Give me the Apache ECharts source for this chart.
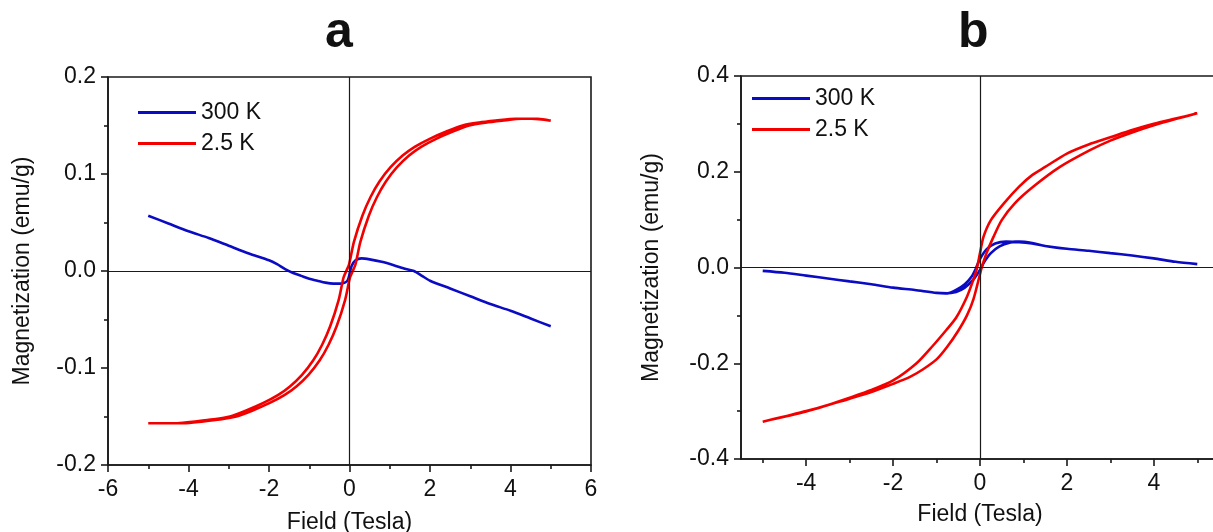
<!DOCTYPE html>
<html>
<head>
<meta charset="utf-8">
<title>M(H) loops</title>
<script src="https://cdn.jsdelivr.net/npm/echarts@6/dist/echarts.min.js"></script>
<style>
    html, body { margin: 0; padding: 0; background: #fff; }
    #chart { width: 1213px; height: 532px; }
</style>
</head>
<body>
<div id="chart"></div>
<script>
// ---- panel a : 300 K (single sweep) ----
const fieldA300 = [-5, -4.5, -4, -3.5, -3, -2.5, -2, -1.8, -1.6, -1.4, -1.2, -1.0, -0.8, -0.6, -0.4, -0.2, -0.05,
    0.05, 0.15, 0.3, 0.5, 0.8, 1.1, 1.4, 1.6, 1.8, 2.0, 2.5, 3, 3.5, 4, 4.5, 5]
const magA300 = [0.057, 0.049, 0.041, 0.034, 0.026, 0.018, 0.011, 0.007, 0.002, -0.002, -0.005, -0.008, -0.010, -0.012, -0.013, -0.013, -0.010,
    0.005, 0.011, 0.013, 0.012, 0.0095, 0.006, 0.002, 0.000, -0.005, -0.010, -0.018, -0.026, -0.034, -0.041, -0.049, -0.057]

// ---- panel a : 2.5 K loop, field going down then back up ----
const fieldA25Down = [5.0, 4.52, 4.12, 3.63, 3.22, 2.81, 2.42, 1.98, 1.62, 1.32, 1.02, 0.74, 0.52, 0.32, 0.11, -0.01, -0.08,
    -0.15, -0.27, -0.48, -0.68, -0.90, -1.18, -1.48, -1.78, -2.14, -2.58, -2.97, -3.38, -3.79, -4.28, -4.68, -5.0]
const magA25Down = [0.155, 0.157, 0.157, 0.155, 0.153, 0.150, 0.144, 0.136, 0.128, 0.119, 0.107, 0.092, 0.076, 0.057, 0.030, 0.007, 0.0,
    -0.007, -0.030, -0.057, -0.076, -0.092, -0.107, -0.119, -0.128, -0.136, -0.144, -0.150, -0.153, -0.155, -0.157, -0.157, -0.157]
const fieldA25Up = [-5.0, -4.52, -4.12, -3.63, -3.22, -2.81, -2.42, -1.98, -1.62, -1.32, -1.02, -0.74, -0.52, -0.32, -0.11, 0.01, 0.08,
    0.15, 0.27, 0.48, 0.68, 0.90, 1.18, 1.48, 1.78, 2.14, 2.58, 2.97, 3.38, 3.79, 4.28, 4.68, 5.0]
const magA25Up = [-0.157, -0.157, -0.157, -0.155, -0.153, -0.150, -0.144, -0.136, -0.128, -0.119, -0.107, -0.092, -0.076, -0.057, -0.030, -0.007, 0.0,
    0.007, 0.030, 0.057, 0.076, 0.092, 0.107, 0.119, 0.128, 0.136, 0.144, 0.150, 0.153, 0.155, 0.157, 0.157, 0.155]

// ---- panel b : 300 K small loop ----
const fieldB300Down = [5.0, 4.5, 4.0, 3.5, 3.0, 2.5, 2.0, 1.5, 1.2, 0.9, 0.6, 0.35, 0.15, 0.0, -0.1, -0.2, -0.35, -0.55,
    -0.75, -1.0, -1.5, -2.0, -2.5, -3.0, -3.5, -4.0, -4.5, -5.0]
const magB300Down = [0.007, 0.012, 0.019, 0.025, 0.030, 0.035, 0.039, 0.045, 0.050, 0.053, 0.054, 0.050, 0.038, 0.018, -0.003, -0.020, -0.035, -0.047,
    -0.054, -0.053, -0.047, -0.042, -0.035, -0.029, -0.023, -0.017, -0.011, -0.007]
const fieldB300Up = [-5.0, -4.5, -4.0, -3.5, -3.0, -2.5, -2.0, -1.5, -1.0, -0.8, -0.55, -0.35, -0.15, 0.0, 0.1, 0.25, 0.45,
    0.7, 0.9, 1.2, 1.5, 2.0, 2.5, 3.0, 3.5, 4.0, 4.5, 5.0]
const magB300Up = [-0.007, -0.011, -0.017, -0.023, -0.029, -0.035, -0.042, -0.047, -0.053, -0.054, -0.051, -0.042, -0.025, -0.005, 0.012, 0.030, 0.044,
    0.052, 0.054, 0.051, 0.045, 0.039, 0.035, 0.030, 0.025, 0.019, 0.012, 0.007]

// ---- panel b : 2.5 K loop ----
const fieldB25Down = [5.0, 4.5, 4.0, 3.5, 3.0, 2.5, 2.0, 1.5, 1.2, 0.9, 0.55, 0.25, 0.08, 0.0, -0.08, -0.15, -0.3, -0.55,
    -0.77, -1.1, -1.46, -2.0, -2.5, -3.0, -3.5, -4.0, -4.5, -5.0]
const magB25Down = [0.322, 0.311, 0.300, 0.287, 0.272, 0.257, 0.238, 0.210, 0.193, 0.169, 0.134, 0.099, 0.064, 0.030, -0.005, -0.025, -0.061, -0.105,
    -0.130, -0.165, -0.200, -0.236, -0.256, -0.272, -0.287, -0.300, -0.311, -0.322]
const fieldB25Up = [-5.0, -4.0, -3.0, -2.5, -2.0, -1.6, -1.3, -1.0, -0.75, -0.5, -0.3, -0.15, 0.04, 0.15, 0.31, 0.5,
    0.8, 1.23, 1.84, 2.53, 3.0, 3.5, 4.0, 4.5, 5.0]
const magB25Up = [-0.322, -0.301, -0.274, -0.260, -0.243, -0.228, -0.212, -0.192, -0.165, -0.132, -0.100, -0.066, 0.0, 0.030, 0.064, 0.099,
    0.134, 0.169, 0.210, 0.245, 0.265, 0.282, 0.297, 0.310, 0.322]

// axis ticks for panel b (its axis runs from -5.5 to 5.5)
const ticksBMajor = [-4, -2, 0, 2, 4]
const ticksBMinor = [-5, -3, -1, 1, 3, 5]

const seriesNames = ['300 K', '2.5 K']
const blue = '#0b0bc4'
const red = '#f20000'
const font = 'Liberation Sans, Arial, sans-serif'

function zip(xs, ys) {
    return xs.map((x, i) => [x, ys[i]])
}

const chartInstance = echarts.init(document.getElementById('chart'))

const axisLineStyle = { color: '#1a1a1a', width: 1.6 }

function valueAxisX(gridIndex, min, max, extra) {
    return Object.assign({
        type: 'value',
        gridIndex: gridIndex,
        min: min,
        max: max,
        name: 'Field (Tesla)',
        nameLocation: 'middle',
        nameGap: 44,
        nameTextStyle: { fontFamily: font, fontSize: 23, color: '#111' },
        axisLine: { onZero: false, lineStyle: axisLineStyle },
        axisTick: { show: true, inside: false, length: 7, lineStyle: axisLineStyle },
        axisLabel: { fontFamily: font, fontSize: 23, color: '#111', margin: 13 },
        splitLine: { show: false }
    }, extra)
}

function valueAxisY(gridIndex, min, max, interval, nameGap) {
    return {
        type: 'value',
        gridIndex: gridIndex,
        min: min,
        max: max,
        interval: interval,
        name: 'Magnetization (emu/g)',
        nameLocation: 'middle',
        nameGap: nameGap,
        nameTextStyle: { fontFamily: font, fontSize: 23, color: '#111' },
        axisLine: { onZero: false, lineStyle: axisLineStyle },
        axisTick: { length: 7, lineStyle: axisLineStyle },
        minorTick: { show: true, splitNumber: 2, length: 4, lineStyle: axisLineStyle },
        axisLabel: {
            fontFamily: font, fontSize: 23, color: '#111', margin: 12,
            formatter: v => v.toFixed(1)
        },
        splitLine: { show: false }
    }
}

// zero lines through the origin
const zeroLines = {
    silent: true,
    symbol: 'none',
    label: { show: false },
    lineStyle: { color: '#1a1a1a', width: 1.2, type: 'solid' },
    emphasis: { disabled: true },
    data: [{ xAxis: 0 }, { yAxis: 0 }]
}

function curve(name, color, data, xIdx, yIdx, withZero) {
    const s = {
        name: name,
        type: 'line',
        xAxisIndex: xIdx,
        yAxisIndex: yIdx,
        data: data,
        showSymbol: false,
        symbol: 'none',
        smooth: 0.25,
        lineStyle: { color: color, width: 2.6 },
        itemStyle: { color: color },
        animation: false
    }
    if (withZero) s.markLine = zeroLines
    return s
}

const legendBase = {
    data: seriesNames, orient: 'vertical', padding: 0,
    icon: 'rect', itemWidth: 58, itemHeight: 3, itemGap: 8,
    textStyle: { fontFamily: font, fontSize: 23, color: '#111' }
}

const gridBase = {
    show: true, borderColor: '#1a1a1a', borderWidth: 1.6,
    containLabel: false, outerBoundsMode: 'none'
}

const titleStyle = { fontFamily: font, fontSize: 50, fontWeight: 'bold', color: '#111' }

const option = {
    animation: false,
    backgroundColor: '#fff',
    title: [
        { text: 'a', left: 325, top: 8, padding: 0, textStyle: titleStyle },
        { text: 'b', left: 958, top: 8, padding: 0, textStyle: titleStyle }
    ],
    legend: [
        Object.assign({ left: 138, top: 101 }, legendBase),
        Object.assign({ left: 752, top: 87 }, legendBase)
    ],
    grid: [
        Object.assign({ left: 108, top: 77, width: 483, height: 388 }, gridBase),
        Object.assign({ left: 741, top: 76, width: 478, height: 383 }, gridBase)
    ],
    xAxis: [
        valueAxisX(0, -6, 6, {
            interval: 2,
            nameGap: 46,
            minorTick: { show: true, splitNumber: 2, length: 4, lineStyle: axisLineStyle }
        }),
        valueAxisX(1, -5.5, 5.5, {
            nameGap: 44,
            axisTick: { show: true, length: 7, lineStyle: axisLineStyle, customValues: ticksBMajor },
            axisLabel: { fontFamily: font, fontSize: 23, color: '#111', margin: 13, customValues: ticksBMajor }
        }),
        // short ticks at odd fields for panel b
        {
            type: 'value', gridIndex: 1, min: -5.5, max: 5.5, position: 'bottom',
            axisLine: { show: false, onZero: false },
            axisTick: { show: true, length: 4, lineStyle: axisLineStyle, customValues: ticksBMinor },
            axisLabel: { show: false },
            splitLine: { show: false }
        }
    ],
    yAxis: [
        valueAxisY(0, -0.2, 0.2, 0.1, 74),
        valueAxisY(1, -0.4, 0.4, 0.2, 78)
    ],
    series: [
        curve('300 K', blue, zip(fieldA300, magA300), 0, 0, true),
        curve('2.5 K', red, zip(fieldA25Down, magA25Down).concat(zip(fieldA25Up, magA25Up)), 0, 0, false),
        curve('300 K', blue, zip(fieldB300Down, magB300Down).concat(zip(fieldB300Up, magB300Up)), 1, 1, true),
        curve('2.5 K', red, zip(fieldB25Down, magB25Down).concat(zip(fieldB25Up, magB25Up)), 1, 1, false)
    ]
}

chartInstance.setOption(option)
</script>
</body>
</html>
